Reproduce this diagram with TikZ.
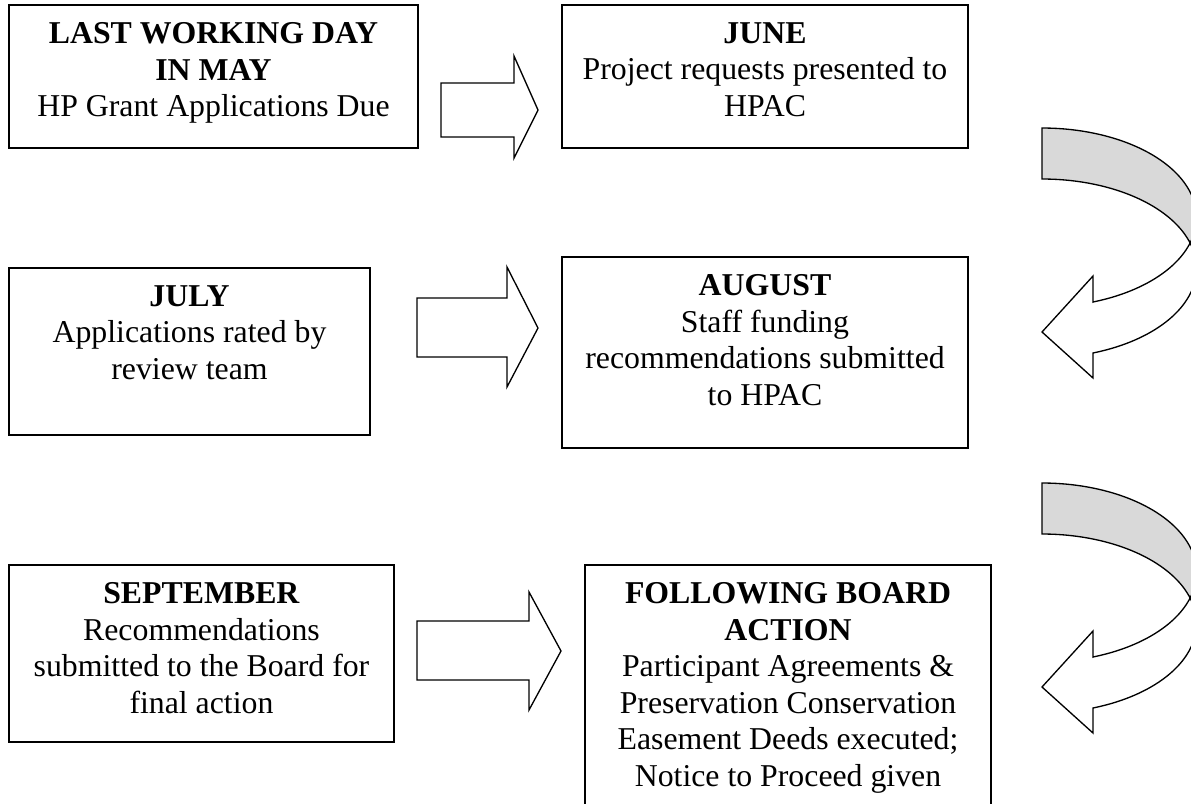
\documentclass[tikz,border=0pt]{standalone}
\usepackage{fontspec}
\setmainfont{Liberation Serif}
\usetikzlibrary{fit, calc}
\definecolor{linecolor}{RGB}{0, 0, 0}
\definecolor{turncolor}{RGB}{217, 217, 217}
\tikzset{
    box/.style = {
        rectangle, draw=linecolor, line width=0.75pt, inner sep=0pt, fill=white
    },
    boxtext/.style = {
        anchor=north, align=center, inner sep=0pt,
        font=\fontsize{12pt}{13.8pt}\selectfont
    },
    blockarrow/.style = {draw=linecolor, line width=0.5pt, fill=white},
    turnback/.style = {draw=linecolor, line width=0.5pt, fill=turncolor},
    turnfront/.style = {draw=linecolor, line width=0.5pt, fill=white},
    turnarrow/.pic = {
        \filldraw[turnback] plot[domain=90:-16.56, samples=60] ({154.5*cos(\x)}, {89.5-89.5*sin(\x)})
            -- plot[domain=16.56:90, samples=60] ({154.5*cos(\x)}, {140.5-89.5*sin(\x)}) -- cycle;
        \filldraw[turnfront] plot[domain=16.56:-70.7, samples=60] ({154.5*cos(\x)}, {140.5-89.5*sin(\x)})
            -- (51,250) -- (0,204) -- (51,148) -- (51,174)
            -- plot[domain=-70.7:-16.56, samples=60] ({154.5*cos(\x)}, {89.5-89.5*sin(\x)}) -- cycle;
    }
}

\begin{document}
\begin{tikzpicture}[x=0.3774pt, y=-0.3774pt]
\useasboundingbox (0,0) rectangle (1191,803);
\clip (0,0) rectangle (1191,803);
% Boxes
\node[box, fit={(9,5) (418,148)}] (may) {};
\node[box, fit={(562,5) (968,148)}] (june) {};
\node[box, fit={(9,268) (370,435)}] (july) {};
\node[box, fit={(562,257) (968,448)}] (august) {};
\node[box, fit={(9,565) (394,742)}] (september) {};
\node[box, fit={(585,565) (991,830)}] (board) {};
% Texts
\node[boxtext] (maytext) at ($(may.north)+(0,18)$) {\textbf{LAST WORKING DAY}\\
\textbf{IN MAY}\\
HP Grant Applications Due};
\node[boxtext] (junetext) at ($(june.north)+(0,18)$) {\textbf{JUNE}\\
Project requests presented to\\
HPAC};
\node[boxtext] (julytext) at ($(july.north)+(0,18)$) {\textbf{JULY}\\
Applications rated by\\
review team};
\node[boxtext] (augusttext) at ($(august.north)+(0,18)$) {\textbf{AUGUST}\\
Staff funding\\
recommendations submitted\\
to HPAC};
\node[boxtext] (septembertext) at ($(september.north)+(0,18)$) {\textbf{SEPTEMBER}\\
Recommendations\\
submitted to the Board for\\
final action};
\node[boxtext] (boardtext) at ($(board.north)+(0,18)$) {\textbf{FOLLOWING BOARD}\\
\textbf{ACTION}\\
Participant Agreements \&\\
Preservation Conservation\\
Easement Deeds executed;\\
Notice to Proceed given};
% Arrows
\draw[blockarrow] (441,83) -- (514,83) -- (514,56) -- (538,110) -- (514,158) -- (514,137) -- (441,137) -- cycle;
\draw[blockarrow] (417,298) -- (507,298) -- (507,267) -- (538,328) -- (507,387) -- (507,357) -- (417,357) -- cycle;
\draw[blockarrow] (417,621) -- (529,621) -- (529,592) -- (561,651) -- (529,710) -- (529,680) -- (417,680) -- cycle;
% Turning arrows
\pic at (1042,128) {turnarrow};
\pic at (1042,483) {turnarrow};
\end{tikzpicture}
\end{document}
